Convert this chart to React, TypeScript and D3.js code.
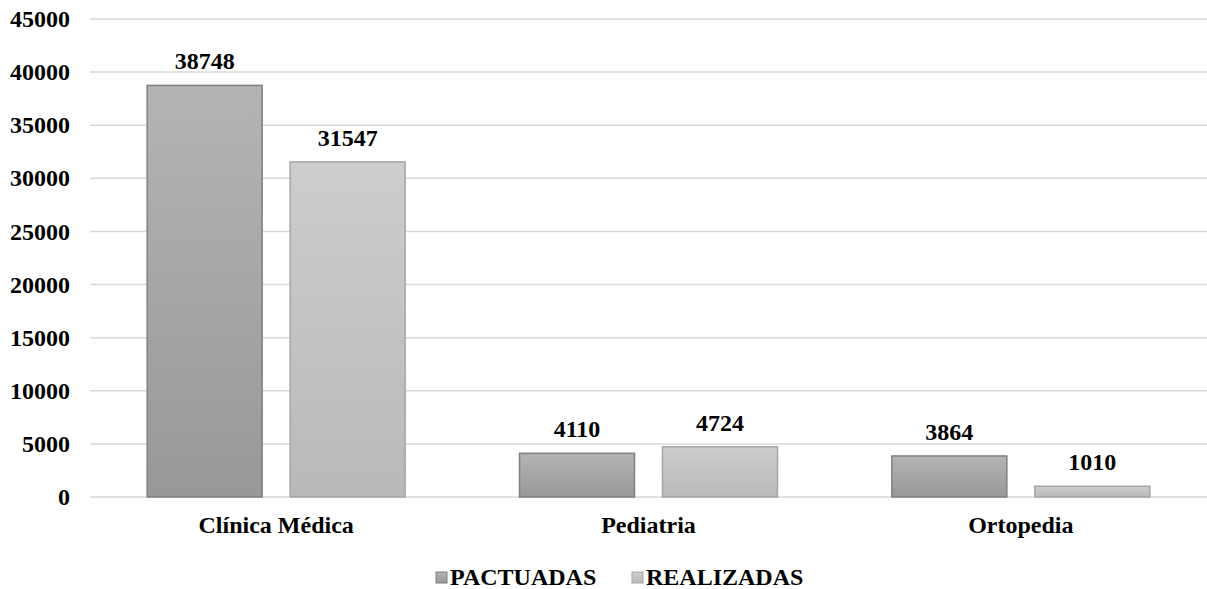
import React from "react";
import * as d3 from "d3";

const categories = ["Clínica Médica", "Pediatria", "Ortopedia"];
const seriesNames = ["PACTUADAS", "REALIZADAS"];
const pactuadas = [38748, 4110, 3864];
const realizadas = [31547, 4724, 1010];
const yTicks = [0, 5000, 10000, 15000, 20000, 25000, 30000, 35000, 40000, 45000];

const width = 1207;
const height = 589;
const margin = { top: 19, right: 0, bottom: 92, left: 90 };
const font = "'Liberation Serif', 'DejaVu Serif', 'Times New Roman', serif";

const fills = ["url(#gradDark)", "url(#gradLight)"];
const strokes = ["#7f7f7f", "#a5a5a5"];

export default function App() {
  const x0 = d3
    .scaleBand()
    .domain(categories)
    .range([margin.left, width - margin.right])
    .paddingInner(0)
    .paddingOuter(0);

  const inner = d3
    .scaleBand()
    .domain(seriesNames)
    .range([0, x0.bandwidth()])
    .paddingInner(0.196)
    .paddingOuter(0.4);

  const y = d3
    .scaleLinear()
    .domain([0, 45000])
    .range([height - margin.bottom, margin.top]);

  const values = [pactuadas, realizadas];
  const textStyle = { fontFamily: font, fontWeight: 700 as const };

  return (
    <svg
      width={width}
      height={height}
      style={{ position: "absolute", left: 0, top: 0, background: "#fff" }}
    >
      <defs>
        <linearGradient id="gradDark" x1="0" y1="0" x2="0" y2="1">
          <stop offset="0%" stopColor="#b4b4b4" />
          <stop offset="100%" stopColor="#989898" />
        </linearGradient>
        <linearGradient id="gradLight" x1="0" y1="0" x2="0" y2="1">
          <stop offset="0%" stopColor="#cdcdcd" />
          <stop offset="100%" stopColor="#b9b9b9" />
        </linearGradient>
      </defs>

      {/* gridlines */}
      {yTicks.map((t) => (
        <line
          key={t}
          x1={margin.left}
          x2={width - margin.right}
          y1={y(t)}
          y2={y(t)}
          stroke="#d9d9d9"
          strokeWidth={1.5}
        />
      ))}

      {/* y tick labels */}
      {yTicks.map((t) => (
        <text
          key={"l" + t}
          x={70}
          y={y(t)}
          dy="0.34em"
          textAnchor="end"
          fontSize={24}
          fill="#000"
          style={textStyle}
        >
          {t}
        </text>
      ))}

      {/* bars */}
      {categories.map((c, ci) => (
        <g key={c} transform={`translate(${x0(c)},0)`}>
          {seriesNames.map((s, si) => {
            const v = values[si][ci];
            const bx = inner(s) as number;
            return (
              <g key={s}>
                <rect
                  x={bx}
                  y={y(v)}
                  width={inner.bandwidth()}
                  height={y(0) - y(v)}
                  fill={fills[si]}
                  stroke={strokes[si]}
                  strokeWidth={1.5}
                />
                <text
                  x={bx + inner.bandwidth() / 2}
                  y={y(v) - 16}
                  textAnchor="middle"
                  fontSize={24}
                  fill="#000"
                  style={textStyle}
                >
                  {v}
                </text>
              </g>
            );
          })}
          <text
            x={x0.bandwidth() / 2}
            y={height - margin.bottom + 36}
            textAnchor="middle"
            fontSize={24}
            fill="#000"
            style={textStyle}
          >
            {c}
          </text>
        </g>
      ))}

      {/* legend */}
      {seriesNames.map((s, si) => {
        const lx = [436, 632][si];
        return (
          <g key={"leg" + s} transform={`translate(${lx},0)`}>
            <rect
              x={0}
              y={572}
              width={11}
              height={11}
              fill={fills[si]}
              stroke={strokes[si]}
              strokeWidth={1}
            />
            <text x={14} y={585} fontSize={24} fill="#000" style={textStyle}>
              {s}
            </text>
          </g>
        );
      })}
    </svg>
  );
}
